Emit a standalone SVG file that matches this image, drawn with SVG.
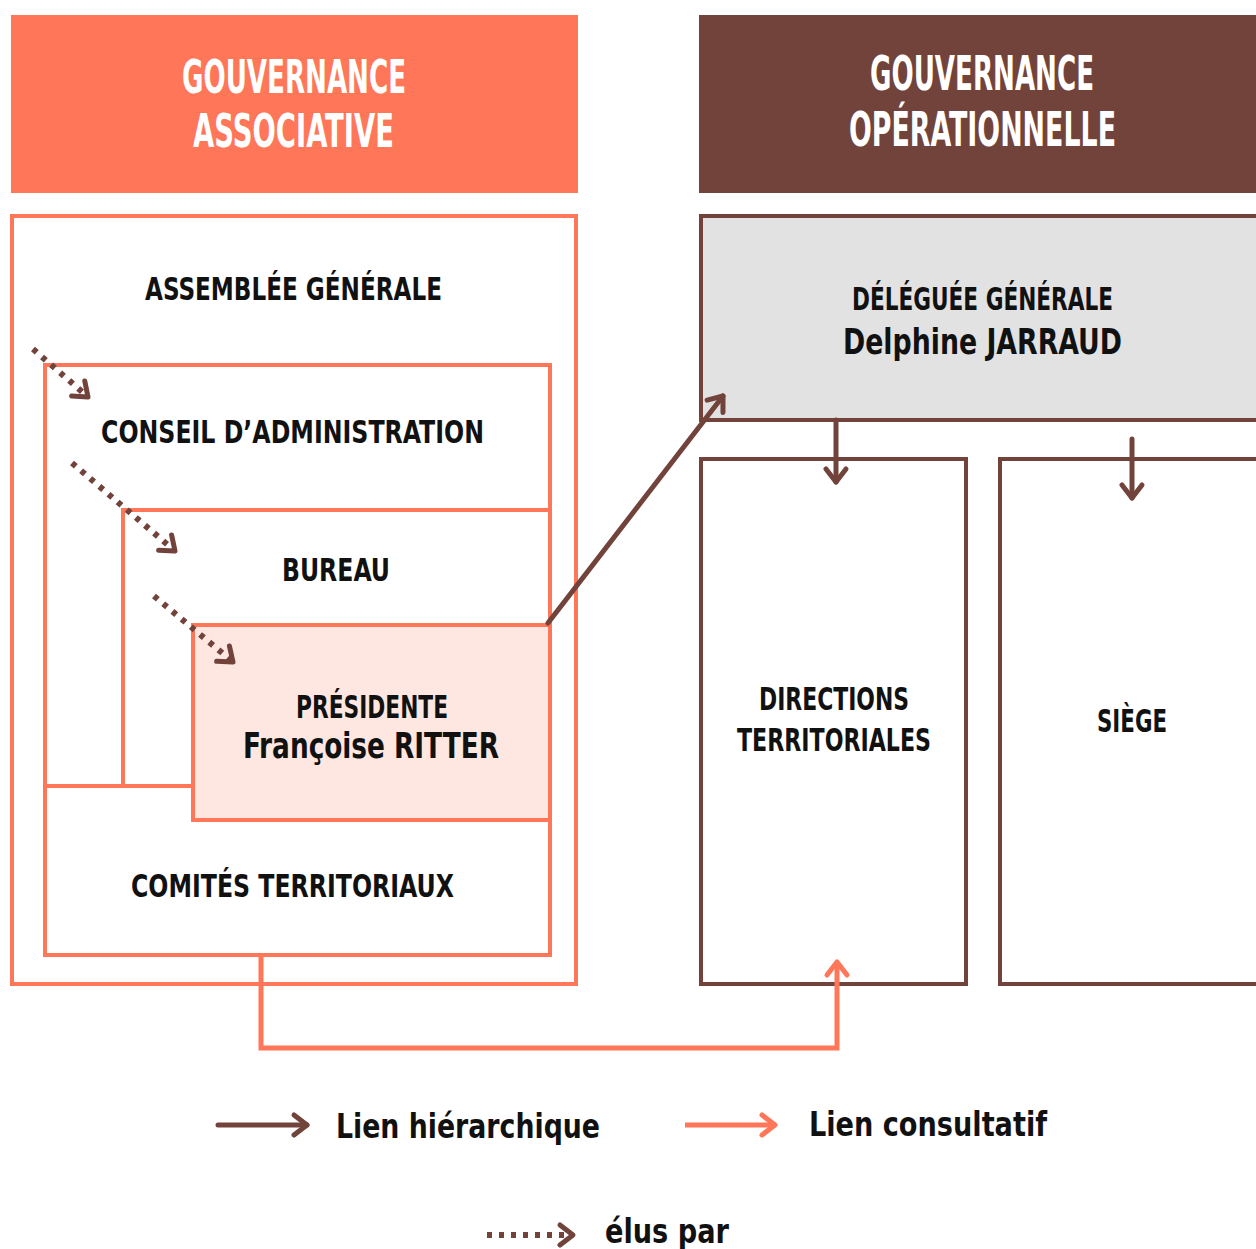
<svg xmlns="http://www.w3.org/2000/svg" width="1256" height="1249" viewBox="0 0 1256 1249">
<style>
  .hdr { font-family: "DejaVu Sans Condensed", "DejaVu Sans", sans-serif; font-weight: bold; font-stretch: condensed; font-size: 42px; fill: #ffffff; text-anchor: middle; }
  .lbl { font-family: "DejaVu Sans Condensed", "DejaVu Sans", sans-serif; font-weight: bold; font-stretch: condensed; font-size: 32px; fill: #111111; }
  .name { font-family: "DejaVu Sans Condensed", "DejaVu Sans", sans-serif; font-weight: bold; font-stretch: condensed; font-size: 36px; fill: #111111; }
  .leg { font-family: "DejaVu Sans Condensed", "DejaVu Sans", sans-serif; font-weight: bold; font-stretch: condensed; font-size: 34px; fill: #111111; }
  .box-c { fill: none; stroke: #FF7658; stroke-width: 4; }
  .box-b { fill: #ffffff; stroke: #72433B; stroke-width: 4; }
  .hier { fill: none; stroke: #72433B; stroke-width: 5; stroke-linecap: round; }
  .cons { fill: none; stroke: #FF7658; stroke-width: 5; }
  .elus { fill: none; stroke: #72433B; stroke-width: 6; stroke-dasharray: 5 7; }
</style>
<defs>
  <marker id="ah-b" markerUnits="userSpaceOnUse" markerWidth="40" markerHeight="40" refX="0" refY="0" viewBox="-20 -20 40 40" orient="auto" overflow="visible">
    <path d="M-13,-10 L0,0 L-13,10" fill="none" stroke="#72433B" stroke-width="5" stroke-linecap="round" stroke-linejoin="round" stroke-dasharray="none"/>
  </marker>
  <marker id="ah-c" markerUnits="userSpaceOnUse" markerWidth="40" markerHeight="40" refX="0" refY="0" viewBox="-20 -20 40 40" orient="auto" overflow="visible">
    <path d="M-13,-10 L0,0 L-13,10" fill="none" stroke="#FF7658" stroke-width="5" stroke-linecap="round" stroke-linejoin="round" stroke-dasharray="none"/>
  </marker>
</defs>

<g id="header-associative">
  <rect x="11" y="15" width="567" height="178" fill="#FF7658"/>
  <text class="hdr" transform="translate(294,93) scale(1,1.12)" textLength="224" lengthAdjust="spacingAndGlyphs">GOUVERNANCE</text>
  <text class="hdr" transform="translate(293.5,147) scale(1,1.12)" textLength="201" lengthAdjust="spacingAndGlyphs">ASSOCIATIVE</text>
</g>
<g id="header-operationnelle">
  <rect x="699" y="15" width="557" height="178" fill="#72433B"/>
  <text class="hdr" transform="translate(982,90) scale(1,1.15)" textLength="224" lengthAdjust="spacingAndGlyphs">GOUVERNANCE</text>
  <text class="hdr" transform="translate(982.5,146) scale(1,1.15)" textLength="267" lengthAdjust="spacingAndGlyphs">OPÉRATIONNELLE</text>
</g>

<g id="assemblee-generale">
  <rect class="box-c" x="12" y="216" width="564" height="768"/>
  <text class="lbl" x="145" y="300" textLength="297" lengthAdjust="spacingAndGlyphs">ASSEMBLÉE GÉNÉRALE</text>
</g>
<g id="conseil-administration">
  <rect class="box-c" x="45" y="365" width="505" height="590"/>
  <text class="lbl" x="101" y="443" textLength="383" lengthAdjust="spacingAndGlyphs">CONSEIL D’ADMINISTRATION</text>
</g>
<g id="bureau">
  <rect class="box-c" x="123" y="510" width="427" height="276"/>
  <text class="lbl" x="282" y="581" textLength="108" lengthAdjust="spacingAndGlyphs">BUREAU</text>
</g>
<g id="comites-territoriaux">
  <rect class="box-c" x="45" y="786" width="505" height="169"/>
  <text class="lbl" x="131" y="897" textLength="323" lengthAdjust="spacingAndGlyphs">COMITÉS TERRITORIAUX</text>
</g>
<g id="presidente">
  <rect x="193" y="625" width="357" height="195" fill="#FDE7E0" stroke="#FF7658" stroke-width="4"/>
  <text class="lbl" x="296" y="718" textLength="152" lengthAdjust="spacingAndGlyphs">PRÉSIDENTE</text>
  <text class="name" x="243" y="758" textLength="256" lengthAdjust="spacingAndGlyphs">Françoise RITTER</text>
</g>

<g id="deleguee-generale">
  <rect x="701" y="216" width="600" height="204" fill="#E2E2E2" stroke="#72433B" stroke-width="4"/>
  <text class="lbl" x="852" y="310" textLength="261" lengthAdjust="spacingAndGlyphs">DÉLÉGUÉE GÉNÉRALE</text>
  <text class="name" x="843" y="354" textLength="279" lengthAdjust="spacingAndGlyphs">Delphine JARRAUD</text>
</g>
<g id="directions-territoriales">
  <rect class="box-b" x="701" y="459" width="265" height="525"/>
  <text class="lbl" x="759" y="710" textLength="150" lengthAdjust="spacingAndGlyphs">DIRECTIONS</text>
  <text class="lbl" x="737" y="751" textLength="194" lengthAdjust="spacingAndGlyphs">TERRITORIALES</text>
</g>
<g id="siege">
  <rect class="box-b" x="1000" y="459" width="300" height="525"/>
  <text class="lbl" x="1097" y="732" textLength="70" lengthAdjust="spacingAndGlyphs">SIÈGE</text>
</g>

<g id="connectors">
  <line class="elus" x1="33" y1="349" x2="88" y2="397" marker-end="url(#ah-b)"/>
  <line class="elus" x1="72" y1="463" x2="175" y2="551" marker-end="url(#ah-b)"/>
  <line class="elus" x1="154" y1="596" x2="233" y2="662" marker-end="url(#ah-b)"/>
  <line class="hier" x1="548" y1="623" x2="723" y2="396" marker-end="url(#ah-b)"/>
  <line class="hier" x1="836" y1="420" x2="836" y2="482" marker-end="url(#ah-b)"/>
  <line class="hier" x1="1132" y1="439" x2="1132" y2="498" marker-end="url(#ah-b)"/>
  <polyline class="cons" points="261,955 261,1048 837,1048 837,962" marker-end="url(#ah-c)"/>
</g>

<g id="legend">
  <line class="hier" x1="218" y1="1125" x2="307" y2="1125" marker-end="url(#ah-b)"/>
  <text class="leg" x="336" y="1138" textLength="264" lengthAdjust="spacingAndGlyphs">Lien hiérarchique</text>
  <line class="cons" x1="685" y1="1125" x2="775" y2="1125" marker-end="url(#ah-c)"/>
  <text class="leg" x="809" y="1136" textLength="238" lengthAdjust="spacingAndGlyphs">Lien consultatif</text>
  <line class="elus" x1="487" y1="1235" x2="573" y2="1235" marker-end="url(#ah-b)"/>
  <text class="leg" x="605" y="1243" textLength="124" lengthAdjust="spacingAndGlyphs">élus par</text>
</g>
</svg>
